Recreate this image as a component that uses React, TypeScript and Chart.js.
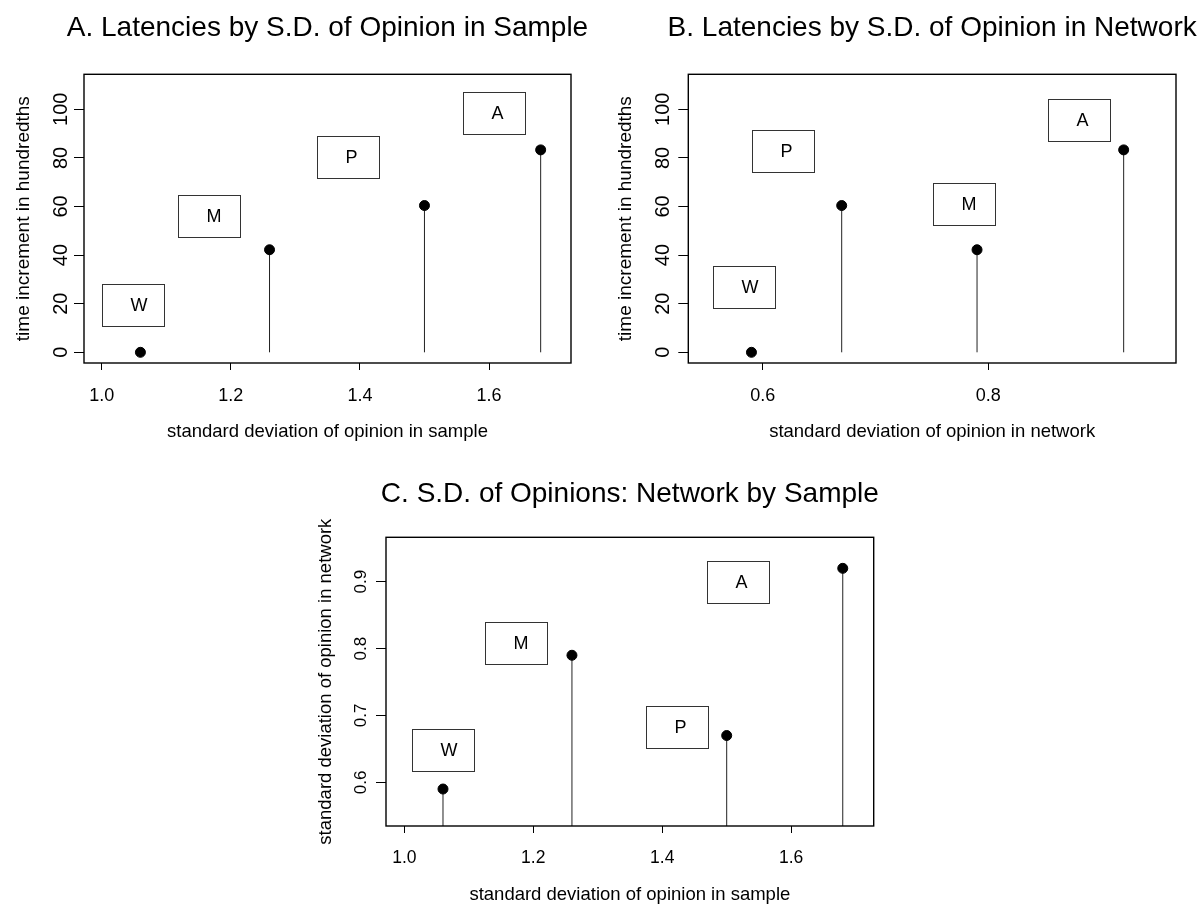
import React, { useEffect, useRef } from "react";
import { Chart, registerables } from "chart.js";

Chart.register(...registerables);

const FONT = "'Liberation Sans', Arial, Helvetica, sans-serif";

// ---------- data ----------
const groups = ["W", "M", "P", "A"];
const sdSample = [1.06, 1.26, 1.5, 1.68];
const sdNetwork = [0.59, 0.79, 0.67, 0.92];
const latency = [0, 42.2, 60.4, 83.3];

// label box centres (data units)
const labelXA = [1.049, 1.167, 1.381, 1.607];
const labelYA = [19.3, 56, 80.5, 98.3];
const labelXB = [0.5834, 0.7786, 0.618, 0.88];
const labelYB = [26.7, 61, 83, 95.7];
const labelXC = [1.0605, 1.1735, 1.4228, 1.5175];
const labelYC = [0.649, 0.8087, 0.6828, 0.9];

// ticks
const sampleTicks = [1.0, 1.2, 1.4, 1.6];
const sampleTickLabels = ["1.0", "1.2", "1.4", "1.6"];
const networkTicksX = [0.6, 0.8];
const networkTickLabelsX = ["0.6", "0.8"];
const latencyTicks = [0, 20, 40, 60, 80, 100];
const latencyTickLabels = ["0", "20", "40", "60", "80", "100"];
const networkTicksY = [0.6, 0.7, 0.8, 0.9];
const networkTickLabelsY = ["0.6", "0.7", "0.8", "0.9"];

type Spec = {
  left: number; top: number; w: number; h: number;
  xs: number[]; ys: number[];
  lx: number[]; ly: number[];
  xMin: number; xMax: number; yMin: number; yMax: number;
  xTicks: number[]; xTickLabels: string[];
  yTicks: number[]; yTickLabels: string[];
  title: string; titleFont: number; titleBaseline: number;
  xTitle: string; xTitleFont: number; xTitlePad: number;
  yTitle: string; yTitleFont: number; yTitlePad: number;
  xTickFont: number; xTickPad: number; xTickLen: number;
  yTickFont: number; yTickPad: number; yTickLen: number;
  padding: { left: number; right: number; top: number; bottom: number };
  yWidth: number; xHeight: number;
};

const specs: Spec[] = [
  {
    left: 0, top: 0, w: 600, h: 450,
    xs: sdSample, ys: latency, lx: labelXA, ly: labelYA,
    xMin: 0.9726, xMax: 1.727, yMin: -4.4, yMax: 114.4,
    xTicks: sampleTicks, xTickLabels: sampleTickLabels,
    yTicks: latencyTicks, yTickLabels: latencyTickLabels,
    title: "A. Latencies by S.D. of Opinion in Sample", titleFont: 28, titleBaseline: 36,
    xTitle: "standard deviation of opinion in sample", xTitleFont: 18.5, xTitlePad: 6.9,
    yTitle: "time increment in hundredths", yTitleFont: 19, yTitlePad: 12.6,
    xTickFont: 18, xTickPad: 15.2, xTickLen: 7,
    yTickFont: 20, yTickPad: -3.7, yTickLen: 10,
    padding: { left: 0, right: 29, top: 74.3, bottom: 0 },
    yWidth: 84, xHeight: 87,
  },
  {
    left: 600, top: 0, w: 602, h: 450,
    xs: sdNetwork, ys: latency, lx: labelXB, ly: labelYB,
    xMin: 0.534, xMax: 0.9664, yMin: -4.4, yMax: 114.4,
    xTicks: networkTicksX, xTickLabels: networkTickLabelsX,
    yTicks: latencyTicks, yTickLabels: latencyTickLabels,
    title: "B. Latencies by S.D. of Opinion in Network", titleFont: 28, titleBaseline: 36,
    xTitle: "standard deviation of opinion in network", xTitleFont: 18.5, xTitlePad: 6.9,
    yTitle: "time increment in hundredths", yTitleFont: 19, yTitlePad: 14.6,
    xTickFont: 18, xTickPad: 15.2, xTickLen: 7,
    yTickFont: 20, yTickPad: -1.9, yTickLen: 10,
    padding: { left: 0, right: 26, top: 74.3, bottom: 0 },
    yWidth: 88.3, xHeight: 87,
  },
  {
    left: 290, top: 450, w: 620, h: 456,
    xs: sdSample, ys: sdNetwork, lx: labelXC, ly: labelYC,
    xMin: 0.9716, xMax: 1.728, yMin: 0.5347, yMax: 0.9664,
    xTicks: sampleTicks, xTickLabels: sampleTickLabels,
    yTicks: networkTicksY, yTickLabels: networkTickLabelsY,
    title: "C. S.D. of Opinions: Network by Sample", titleFont: 28, titleBaseline: 52,
    xTitle: "standard deviation of opinion in sample", xTitleFont: 18.5, xTitlePad: 0,
    yTitle: "standard deviation of opinion in network", yTitleFont: 18.5, yTitlePad: 24.9,
    xTickFont: 17.5, xTickPad: 14.4, xTickLen: 7,
    yTickFont: 17, yTickPad: 3.2, yTickLen: 10,
    padding: { left: 0, right: 36.3, top: 87.3, bottom: 0 },
    yWidth: 96, xHeight: 80,
  },
];

function makeDecor(spec: Spec) {
  return {
    id: "rDecor",
    afterDatasetsDraw(chart: any) {
      const { ctx, chartArea: a } = chart;
      const xs = chart.scales.x;
      const ys = chart.scales.y;
      ctx.save();
      // labelled boxes
      groups.forEach((g, i) => {
        const cx = xs.getPixelForValue(spec.lx[i]);
        const cy = ys.getPixelForValue(spec.ly[i]);
        const bl = Math.round(cx - 31) + 0.5;
        const bt = Math.round(cy - 21) + 0.5;
        ctx.strokeStyle = "#333";
        ctx.lineWidth = 1;
        ctx.strokeRect(bl, bt, 62, 42);
        ctx.fillStyle = "#000";
        ctx.font = `18px ${FONT}`;
        ctx.textAlign = "left";
        ctx.textBaseline = "middle";
        ctx.fillText(g, bl + 28, cy + 1);
      });
      // plot frame
      ctx.strokeStyle = "#000";
      ctx.lineWidth = 1.4;
      ctx.strokeRect(a.left, a.top, a.right - a.left, a.bottom - a.top);
      // main title, centred over the plot region
      ctx.fillStyle = "#000";
      ctx.font = `${spec.titleFont}px ${FONT}`;
      ctx.textAlign = "center";
      ctx.textBaseline = "alphabetic";
      ctx.fillText(spec.title, (a.left + a.right) / 2, spec.titleBaseline);
      ctx.restore();
    },
  };
}

function buildConfig(spec: Spec): any {
  const points = spec.xs.map((x, i) => ({ x, y: spec.ys[i] }));
  const stems = spec.xs.map((x, i) => ({
    type: "line",
    data: [
      { x, y: 0 },
      { x, y: spec.ys[i] },
    ],
    borderColor: "#222",
    borderWidth: 1,
    pointRadius: 0,
    fill: false,
    order: 2,
  }));
  return {
    type: "scatter",
    data: {
      datasets: [
        {
          type: "scatter",
          data: points,
          pointRadius: 5,
          pointBackgroundColor: "#000",
          pointBorderColor: "#000",
          pointBorderWidth: 1,
          showLine: false,
          order: 1,
        },
        ...stems,
      ],
    },
    plugins: [makeDecor(spec)],
    options: {
      animation: false,
      responsive: false,
      devicePixelRatio: 1,
      events: [],
      layout: { padding: spec.padding },
      plugins: {
        legend: { display: false },
        tooltip: { enabled: false },
        title: { display: false },
      },
      scales: {
        x: {
          type: "linear",
          position: "bottom",
          bounds: "data",
          min: spec.xMin,
          max: spec.xMax,
          afterBuildTicks: (s: any) => {
            s.ticks = spec.xTicks.map((v) => ({ value: v }));
          },
          afterFit: (s: any) => {
            s.height = spec.xHeight;
          },
          ticks: {
            autoSkip: false,
            maxRotation: 0,
            minRotation: 0,
            padding: spec.xTickPad,
            color: "#000",
            font: { family: FONT, size: spec.xTickFont },
            callback: (_v: any, i: number) => spec.xTickLabels[i],
          },
          grid: {
            drawOnChartArea: false,
            drawTicks: true,
            tickLength: spec.xTickLen,
            color: "#000",
            lineWidth: 1,
          },
          border: { display: false },
          title: {
            display: true,
            text: spec.xTitle,
            color: "#000",
            font: { family: FONT, size: spec.xTitleFont },
            padding: { top: 0, bottom: spec.xTitlePad },
          },
        },
        y: {
          type: "linear",
          position: "left",
          bounds: "data",
          min: spec.yMin,
          max: spec.yMax,
          afterBuildTicks: (s: any) => {
            s.ticks = spec.yTicks.map((v) => ({ value: v }));
          },
          afterFit: (s: any) => {
            s.width = spec.yWidth;
          },
          ticks: {
            autoSkip: false,
            minRotation: 90,
            maxRotation: 90,
            crossAlign: "center",
            padding: spec.yTickPad,
            color: "#000",
            font: { family: FONT, size: spec.yTickFont },
            callback: (_v: any, i: number) => spec.yTickLabels[i],
          },
          grid: {
            drawOnChartArea: false,
            drawTicks: true,
            tickLength: spec.yTickLen,
            color: "#000",
            lineWidth: 1,
          },
          border: { display: false },
          title: {
            display: true,
            text: spec.yTitle,
            color: "#000",
            font: { family: FONT, size: spec.yTitleFont },
            padding: { top: spec.yTitlePad, bottom: 0 },
          },
        },
      },
    },
  };
}

function Panel({ spec }: { spec: Spec }) {
  const ref = useRef<HTMLCanvasElement | null>(null);
  useEffect(() => {
    if (!ref.current) return;
    const chart = new Chart(ref.current, buildConfig(spec));
    return () => chart.destroy();
  }, [spec]);
  return (
    <canvas
      ref={ref}
      width={spec.w}
      height={spec.h}
      style={{ position: "absolute", left: spec.left, top: spec.top, width: spec.w, height: spec.h, display: "block" }}
    />
  );
}

export default function App() {
  return (
    <div style={{ position: "absolute", left: 0, top: 0, width: 1202, height: 906, background: "#fff" }}>
      {specs.map((s, i) => (
        <Panel key={i} spec={s} />
      ))}
    </div>
  );
}
